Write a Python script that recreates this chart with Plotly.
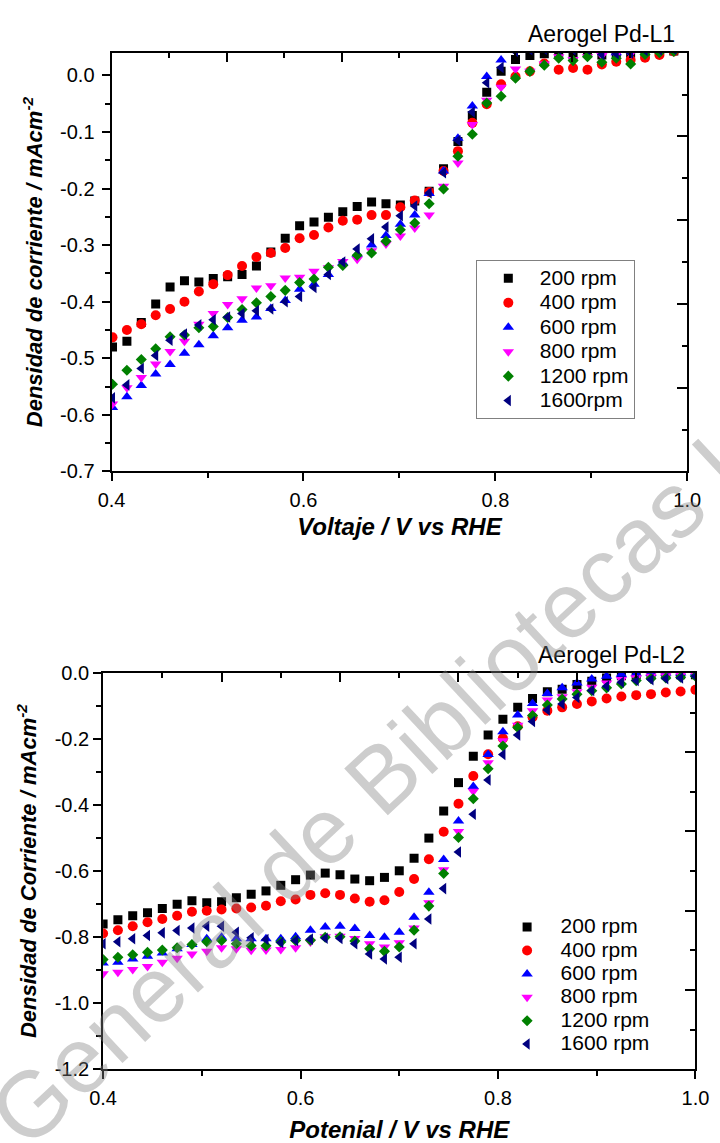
import plotly.graph_objects as go

# ---------------- Aerogel Pd-L1 (upper panel) ----------------
volt_l1 = [0.401, 0.416, 0.431, 0.446, 0.461, 0.476, 0.491, 0.506, 0.521, 0.536,
           0.551, 0.566, 0.581, 0.596, 0.611, 0.626, 0.641, 0.656, 0.671, 0.686,
           0.701, 0.716, 0.731, 0.746, 0.761, 0.776, 0.791, 0.806, 0.821, 0.836,
           0.851, 0.866, 0.881, 0.896, 0.911, 0.926, 0.941, 0.956, 0.971, 0.986]

l1_200 = [-0.480, -0.470, -0.437, -0.404, -0.374, -0.363, -0.365, -0.359, -0.356, -0.352,
          -0.337, -0.312, -0.288, -0.266, -0.259, -0.251, -0.241, -0.232, -0.224, -0.227,
          -0.229, -0.222, -0.205, -0.165, -0.117, -0.071, -0.030, 0.007, 0.028, 0.035,
          0.038, 0.040, 0.036, 0.040, 0.036, 0.040, 0.039, 0.041, 0.042, 0.043]
l1_400 = [-0.463, -0.450, -0.440, -0.424, -0.413, -0.400, -0.382, -0.369, -0.353, -0.337,
          -0.321, -0.314, -0.305, -0.288, -0.282, -0.269, -0.257, -0.255, -0.247, -0.247,
          -0.233, -0.221, -0.206, -0.169, -0.134, -0.084, -0.051, -0.016, -0.002, 0.007,
          0.021, 0.010, 0.013, 0.010, 0.019, 0.024, 0.027, 0.031, 0.036, 0.042]
l1_600 = [-0.587, -0.568, -0.548, -0.528, -0.511, -0.491, -0.476, -0.460, -0.446, -0.433,
          -0.427, -0.412, -0.398, -0.378, -0.369, -0.352, -0.331, -0.316, -0.300, -0.283,
          -0.263, -0.247, -0.209, -0.169, -0.111, -0.054, -0.002, 0.027, 0.045, 0.046,
          0.046, 0.047, 0.046, 0.046, 0.045, 0.040, 0.045, 0.046, 0.046, 0.047]
l1_800 = [-0.581, -0.552, -0.534, -0.510, -0.488, -0.470, -0.440, -0.421, -0.405, -0.395,
          -0.376, -0.372, -0.358, -0.357, -0.346, -0.340, -0.329, -0.325, -0.310, -0.298,
          -0.284, -0.270, -0.247, -0.196, -0.155, -0.087, -0.044, -0.021, 0.011, 0.007,
          0.020, 0.033, 0.028, 0.033, 0.035, 0.037, 0.038, 0.040, 0.040, 0.042]
l1_1200 = [-0.546, -0.521, -0.502, -0.483, -0.462, -0.459, -0.446, -0.444, -0.428, -0.414,
           -0.402, -0.391, -0.380, -0.366, -0.360, -0.339, -0.336, -0.318, -0.314, -0.293,
           -0.273, -0.261, -0.227, -0.201, -0.143, -0.104, -0.049, -0.037, -0.005, 0.007,
           0.018, 0.030, 0.026, 0.033, 0.023, 0.030, 0.020, 0.037, 0.040, 0.042]
l1_1600 = [-0.570, -0.547, -0.518, -0.495, -0.468, -0.457, -0.441, -0.432, -0.427, -0.421,
           -0.416, -0.413, -0.400, -0.391, -0.375, -0.352, -0.330, -0.307, -0.289, -0.268,
           -0.248, -0.231, -0.208, -0.172, -0.115, -0.065, -0.013, 0.014, 0.042, 0.045,
           0.046, 0.046, 0.045, 0.046, 0.037, 0.038, 0.039, 0.044, 0.045, 0.046]

# ---------------- Aerogel Pd-L2 (lower panel) ----------------
volt_l2 = [0.400, 0.415, 0.430, 0.445, 0.460, 0.475, 0.490, 0.505, 0.520, 0.535,
           0.550, 0.565, 0.580, 0.595, 0.610, 0.625, 0.640, 0.655, 0.670, 0.685,
           0.700, 0.715, 0.730, 0.745, 0.760, 0.775, 0.790, 0.805, 0.820, 0.835,
           0.850, 0.865, 0.880, 0.895, 0.910, 0.925, 0.940, 0.955, 0.970, 0.985, 1.000]

l2_200 = [-0.760, -0.747, -0.735, -0.726, -0.713, -0.700, -0.690, -0.696, -0.693, -0.681,
          -0.670, -0.660, -0.643, -0.626, -0.612, -0.606, -0.611, -0.624, -0.629, -0.619,
          -0.599, -0.561, -0.500, -0.418, -0.332, -0.252, -0.188, -0.140, -0.104, -0.077,
          -0.057, -0.049, -0.035, -0.025, -0.015, -0.008, -0.006, -0.005, -0.005, -0.005, -0.005]
l2_400 = [-0.789, -0.779, -0.767, -0.755, -0.745, -0.735, -0.723, -0.720, -0.716, -0.713,
          -0.710, -0.705, -0.691, -0.686, -0.672, -0.667, -0.672, -0.683, -0.693, -0.688,
          -0.663, -0.624, -0.564, -0.481, -0.396, -0.312, -0.246, -0.198, -0.161, -0.134,
          -0.114, -0.104, -0.094, -0.086, -0.077, -0.071, -0.067, -0.064, -0.059, -0.056, -0.051]
l2_600 = [-0.878, -0.876, -0.866, -0.858, -0.848, -0.835, -0.822, -0.805, -0.800, -0.805,
          -0.805, -0.805, -0.805, -0.799, -0.779, -0.769, -0.767, -0.774, -0.795, -0.800,
          -0.785, -0.740, -0.664, -0.565, -0.448, -0.344, -0.247, -0.178, -0.127, -0.092,
          -0.062, -0.045, -0.030, -0.018, -0.010, -0.004, -0.002, -0.001, 0.000, 0.000, 0.000]
l2_800 = [-0.911, -0.906, -0.898, -0.889, -0.876, -0.864, -0.851, -0.843, -0.832, -0.835,
          -0.840, -0.839, -0.837, -0.832, -0.815, -0.799, -0.797, -0.804, -0.820, -0.830,
          -0.817, -0.772, -0.696, -0.596, -0.480, -0.358, -0.272, -0.205, -0.158, -0.114,
          -0.082, -0.072, -0.057, -0.043, -0.030, -0.020, -0.014, -0.010, -0.008, -0.006, -0.005]
l2_1200 = [-0.868, -0.861, -0.853, -0.846, -0.839, -0.832, -0.822, -0.814, -0.810, -0.820,
           -0.826, -0.826, -0.815, -0.810, -0.809, -0.800, -0.799, -0.812, -0.835, -0.843,
           -0.830, -0.779, -0.706, -0.607, -0.498, -0.381, -0.290, -0.221, -0.165, -0.129,
           -0.097, -0.079, -0.064, -0.054, -0.045, -0.033, -0.023, -0.017, -0.015, -0.013, -0.010]
l2_1600 = [-0.820, -0.814, -0.805, -0.795, -0.787, -0.780, -0.772, -0.767, -0.767, -0.785,
           -0.802, -0.807, -0.816, -0.810, -0.806, -0.803, -0.804, -0.820, -0.851, -0.866,
           -0.861, -0.820, -0.745, -0.653, -0.542, -0.428, -0.324, -0.247, -0.188, -0.147,
           -0.112, -0.094, -0.074, -0.053, -0.040, -0.028, -0.023, -0.020, -0.017, -0.015, -0.010]

names_l1 = ["200 rpm", "400 rpm", "600 rpm", "800 rpm", "1200 rpm", "1600rpm"]
names_l2 = ["200 rpm", "400 rpm", "600 rpm", "800 rpm", "1200 rpm", "1600 rpm"]

# Tick positions and their printed labels (plain hyphen for negatives)
x_ticks = [0.4, 0.6, 0.8, 1.0]
x_tick_text = ["0.4", "0.6", "0.8", "1.0"]
y1_ticks = [0.0, -0.1, -0.2, -0.3, -0.4, -0.5, -0.6, -0.7]
y1_tick_text = ["0.0", "-0.1", "-0.2", "-0.3", "-0.4", "-0.5", "-0.6", "-0.7"]
y2_ticks = [0.0, -0.2, -0.4, -0.6, -0.8, -1.0, -1.2]
y2_tick_text = ["0.0", "-0.2", "-0.4", "-0.6", "-0.8", "-1.0", "-1.2"]

colors = ["#000000", "#ff0000", "#0000ff", "#ff00ff", "#008000", "#000080"]
symbols = ["square", "circle", "triangle-up", "triangle-down", "diamond", "triangle-left"]
sizes = [9, 10, 10, 10, 8.5, 10]

W, H = 720, 1143
FONT = "Liberation Sans, Arial, sans-serif"


def px_x(p):
    return p / W


def px_y(p):
    return 1 - p / H


fig = go.Figure()

series_l1 = [l1_200, l1_400, l1_600, l1_800, l1_1200, l1_1600]
series_l2 = [l2_200, l2_400, l2_600, l2_800, l2_1200, l2_1600]

for name, ys, c, s, sz in zip(names_l1, series_l1, colors, symbols, sizes):
    fig.add_trace(go.Scatter(
        x=volt_l1, y=ys, mode="markers", xaxis="x", yaxis="y",
        name='<span style="font-size:21px">%s</span>' % name, legend="legend",
        marker=dict(symbol=s, size=sz, color=c, line=dict(width=0)),
    ))

for name, ys, c, s, sz in zip(names_l2, series_l2, colors, symbols, sizes):
    fig.add_trace(go.Scatter(
        x=volt_l2, y=ys, mode="markers", xaxis="x2", yaxis="y2",
        name='<span style="font-size:21px">%s</span>' % name, legend="legend2",
        marker=dict(symbol=s, size=sz, color=c, line=dict(width=0)),
    ))

# Empty traces that attach the secondary frame axes (top / right tick rows)
for xa, ya in (("x3", "y3"), ("x4", "y4")):
    fig.add_trace(go.Scatter(x=[], y=[], xaxis=xa, yaxis=ya, mode="markers",
                             showlegend=False, hoverinfo="skip"))

tickfont = dict(family=FONT, size=20, color="black")


def main_x(domain, anchor, title, standoff):
    return dict(
        domain=domain, anchor=anchor, range=[0.4, 1.0],
        tickmode="array", tickvals=x_ticks, ticktext=x_tick_text,
        ticks="outside", ticklen=8, tickwidth=1.5, tickcolor="black",
        minor=dict(tickmode="linear", tick0=0.4, dtick=0.1, ticks="outside",
                   ticklen=5, tickwidth=1.5, tickcolor="black"),
        showline=True, linewidth=2, linecolor="black", showgrid=False, zeroline=False,
        tickfont=tickfont, ticklabelstandoff=2,
        title=dict(text=title, font=dict(family=FONT, size=24, color="black"), standoff=standoff),
    )


def main_y(domain, anchor, rng, tvals, ttext, minor_dtick, title, standoff, label_gap):
    return dict(
        domain=domain, anchor=anchor, range=rng,
        tickmode="array", tickvals=tvals, ticktext=ttext,
        ticks="outside", ticklen=8, tickwidth=1.5, tickcolor="black",
        minor=dict(tickmode="linear", tick0=0, dtick=minor_dtick, ticks="outside",
                   ticklen=5, tickwidth=1.5, tickcolor="black"),
        showline=True, linewidth=2, linecolor="black", showgrid=False, zeroline=False,
        tickfont=tickfont, ticklabelstandoff=label_gap,
        title=dict(text=title, font=dict(family=FONT, size=22, color="black"), standoff=standoff),
    )


def frame_axis(over, anchor, side, ticklen):
    return dict(
        overlaying=over, anchor=anchor, side=side, range=[0, 10], tick0=0, dtick=2,
        ticks="inside", ticklen=ticklen, tickwidth=1.5, tickcolor="black",
        minor=dict(dtick=1, ticks="inside", ticklen=5, tickwidth=1.5, tickcolor="black"),
        showticklabels=False, showline=True, linewidth=2, linecolor="black",
        showgrid=False, zeroline=False, fixedrange=True,
    )


dom_x1 = [px_x(101.5), px_x(700.5)]
dom_y1 = [px_y(469.5), px_y(42.5)]
dom_x2 = [px_x(92.7), px_x(709.0)]
dom_y2 = [px_y(1079.0), px_y(675.0)]

fig.update_layout(
    width=W, height=H, margin=dict(l=0, r=0, t=0, b=0),
    paper_bgcolor="white", plot_bgcolor="white",
    font=dict(family=FONT, color="black"),
    xaxis=main_x(dom_x1, "y", "<b><i>Voltaje / V vs RHE</i></b>", 8),
    yaxis=main_y(dom_y1, "x", [-0.7, 0.04], y1_ticks, y1_tick_text, 0.05,
                 "<b><i>Densidad de corriente / mAcm<sup>-2</sup></i></b>", 11, 3),
    xaxis2=main_x(dom_x2, "y2", "<b><i>Potenial / V vs RHE</i></b>", 14),
    yaxis2=main_y(dom_y2, "x2", [-1.2, 0.0], y2_ticks, y2_tick_text, 0.1,
                  "<b><i>Densidad de Corriente / mAcm<sup>-2</sup></i></b>", 12, 0),
    xaxis3=frame_axis("x", "y3", "top", 9),
    yaxis3=frame_axis("y", "x3", "right", 10),
    xaxis4=frame_axis("x2", "y4", "top", 9),
    yaxis4=frame_axis("y2", "x4", "right", 10),
    legend=dict(
        x=px_x(480.5), y=px_y(254), xanchor="left", yanchor="top",
        bgcolor="white", bordercolor="#808080", borderwidth=1,
        font=dict(family=FONT, size=16.5, color="black"), itemwidth=53,
    ),
    legend2=dict(
        x=px_x(499), y=px_y(917), xanchor="left", yanchor="top",
        bgcolor="rgba(0,0,0,0)", borderwidth=0,
        font=dict(family=FONT, size=15.7, color="black"), itemwidth=57,
    ),
    showlegend=True,
)

# Panel captions
fig.add_annotation(text="Aerogel Pd-L1", xref="paper", yref="paper",
                   x=px_x(690), y=px_y(23), xanchor="right", yanchor="middle",
                   showarrow=False, font=dict(family=FONT, size=23, color="black"))
fig.add_annotation(text="Aerogel Pd-L2", xref="paper", yref="paper",
                   x=px_x(700), y=px_y(657), xanchor="right", yanchor="middle",
                   showarrow=False, font=dict(family=FONT, size=23, color="black"))

# Library watermark laid diagonally over the page
fig.add_annotation(text="Dirección General de Bibliotecas UAQ", xref="paper", yref="paper",
                   x=px_x(276), y=px_y(879), xanchor="center", yanchor="middle",
                   textangle=-43, showarrow=False,
                   font=dict(family=FONT, size=93, color="rgba(130,130,130,0.4)"))

fig.write_html("out.html")
